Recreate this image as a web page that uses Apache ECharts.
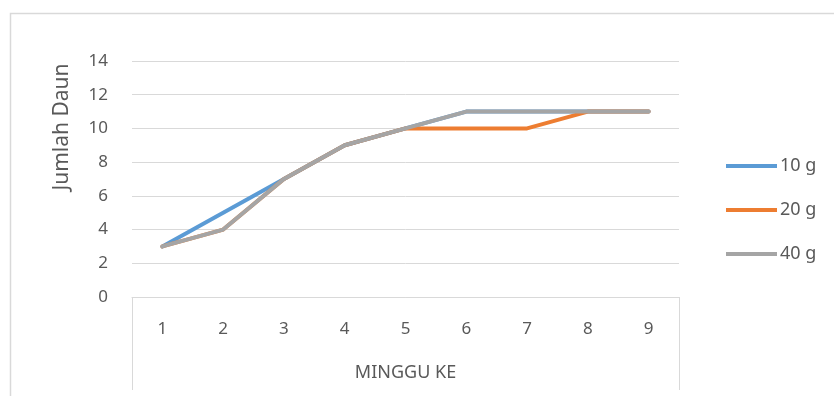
<!DOCTYPE html>
<html>
<head>
<meta charset="utf-8">
<script src="https://cdn.jsdelivr.net/npm/echarts@6/dist/echarts.min.js"></script>
<style>
  html, body { margin: 0; padding: 0; background: #fff; }
  #chart { width: 834px; height: 396px; }
</style>
</head>
<body>
<div id="chart"></div>
<script>
// Weekly leaf counts per treatment dose
const weeks = ['1', '2', '3', '4', '5', '6', '7', '8', '9'];
const dose10g = [3, 5, 7, 9, 10, 11, 11, 11, 11];
const dose20g = [3, 4, 7, 9, 10, 10, 10, 11, 11];
const dose40g = [3, 4, 7, 9, 10, 11, 11, 11, 11];
const seriesNames = ['10 g', '20 g', '40 g'];
const yTicks = { min: 0, max: 14, step: 2 };

const FONT = 'Noto Sans';
const TEXT = '#595959';
const GRID_LINE = '#D9D9D9';

// plot area layout (px)
const W = 834, H = 396;
const gLeft = 132, gRight = 155, gTop = 61, gBottom = 99;
const gx0 = gLeft, gx1 = W - gRight, gy1 = H - gBottom;
const boxBottom = 390;

const chart = echarts.init(document.getElementById('chart'), null, { renderer: 'canvas' });

const lineSeries = (name, data, color) => ({
  name, type: 'line', data,
  symbol: 'none',
  lineStyle: { color, width: 4, cap: 'round', join: 'round' },
  itemStyle: { color },
  emphasis: { disabled: true },
  animation: false
});

chart.setOption({
  animation: false,
  backgroundColor: '#fff',
  grid: { left: gLeft, right: gRight, top: gTop, bottom: gBottom, containLabel: false },
  xAxis: {
    type: 'category',
    data: weeks,
    boundaryGap: true,
    name: 'MINGGU KE',
    nameLocation: 'middle',
    nameGap: 67,
    nameTextStyle: { color: TEXT, fontFamily: FONT, fontSize: 18 },
    axisLine: { show: true, lineStyle: { color: GRID_LINE, width: 1 } },
    axisTick: { show: false },
    axisLabel: { color: TEXT, fontFamily: FONT, fontSize: 17, margin: 24 },
    splitLine: { show: false }
  },
  yAxis: {
    type: 'value',
    min: yTicks.min, max: yTicks.max, interval: yTicks.step,
    axisLine: { show: false },
    axisTick: { show: false },
    axisLabel: { color: TEXT, fontFamily: FONT, fontSize: 17, margin: 24 },
    splitLine: { show: true, lineStyle: { color: GRID_LINE, width: 1 } }
  },
  legend: {
    orient: 'vertical',
    left: 721,
    top: 152,
    itemWidth: 51,
    itemHeight: 4,
    itemGap: 26,
    icon: 'rect',
    textStyle: { color: TEXT, fontFamily: FONT, fontSize: 18, padding: [0, 0, 0, -2] },
    data: seriesNames
  },
  graphic: [
    // outer chart frame
    { type: 'rect', silent: true, shape: { x: 10.5, y: 13.5, width: 900, height: 400 },
      style: { fill: null, stroke: '#D9D9D9', lineWidth: 1.5 } },
    // category-axis box sides
    { type: 'line', silent: true, shape: { x1: gx0 + 0.5, y1: gy1, x2: gx0 + 0.5, y2: boxBottom },
      style: { stroke: GRID_LINE, lineWidth: 1 } },
    { type: 'line', silent: true, shape: { x1: gx1 + 0.5, y1: gy1, x2: gx1 + 0.5, y2: boxBottom },
      style: { stroke: GRID_LINE, lineWidth: 1 } },
    // y-axis title
    { type: 'text', silent: true, x: 62, y: 127, rotation: Math.PI / 2,
      style: { text: 'Jumlah Daun', fill: TEXT, font: '21px "' + FONT + '"',
               textAlign: 'center', textVerticalAlign: 'middle' } }
  ],
  series: [
    lineSeries(seriesNames[0], dose10g, '#5B9BD5'),
    lineSeries(seriesNames[1], dose20g, '#ED7D31'),
    lineSeries(seriesNames[2], dose40g, '#A5A5A5')
  ]
});
</script>
</body>
</html>
